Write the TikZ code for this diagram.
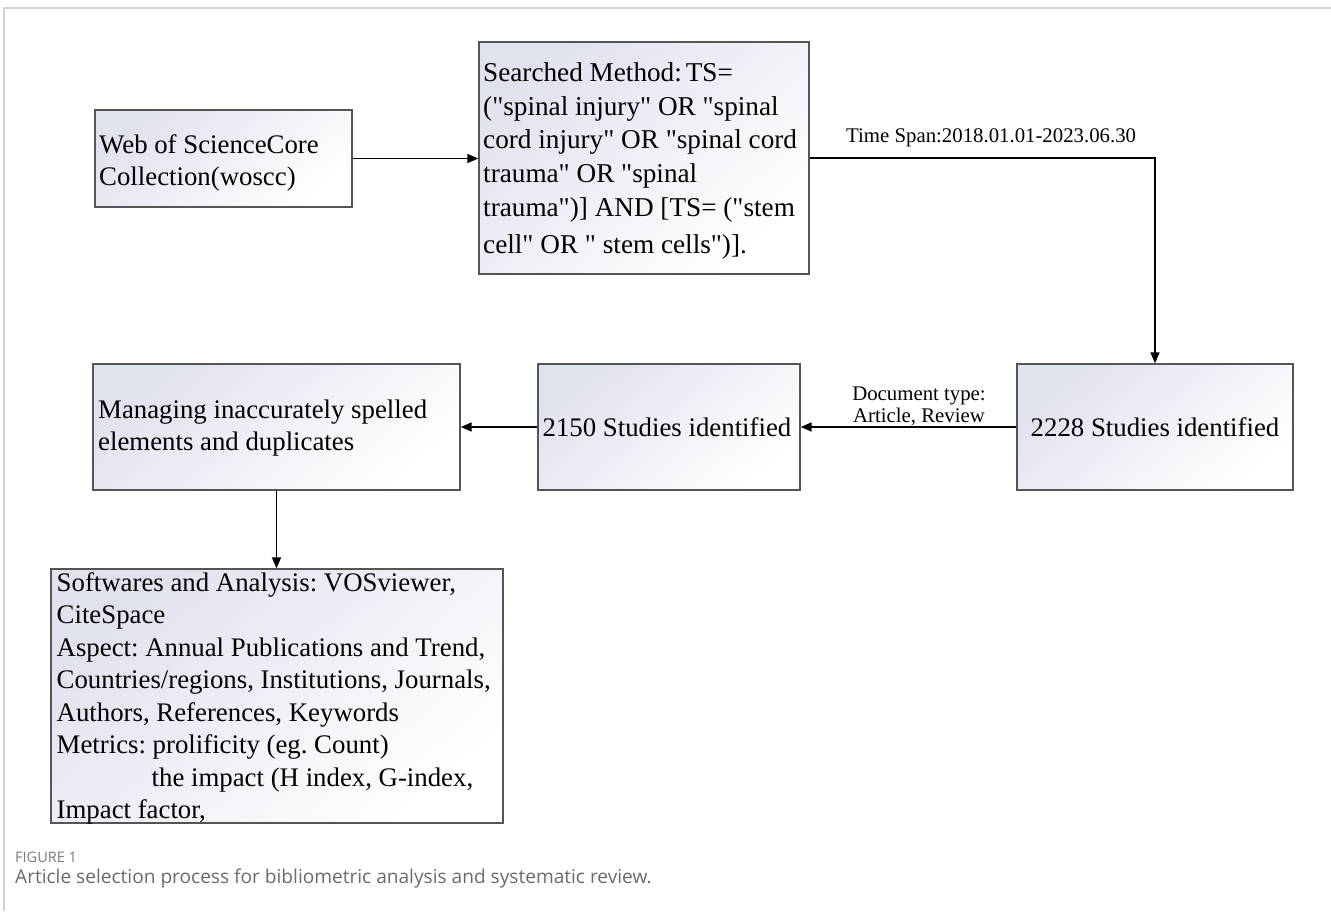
\documentclass[tikz,border=0pt]{standalone}
\usepackage{fontspec}
\setmainfont{Liberation Serif}[Ligatures=TeXOff]
\newfontfamily\capfont{Open Sans}
\usetikzlibrary{arrows.meta}
\definecolor{boxline}{HTML}{555555}
\definecolor{boxshade}{HTML}{E0E2EE}
\definecolor{frameline}{HTML}{D2D2D2}
\definecolor{captext}{HTML}{6A6A6A}
\definecolor{capgray}{HTML}{7A7A7A}
\begin{document}
\frenchspacing
\begin{tikzpicture}[x=1pt,y=-1pt,
  box/.style={draw=boxline, line width=1.4pt, top color=boxshade, bottom color=white, shading angle=40, inner sep=0pt},
  txt/.style={anchor=north west, inner sep=0pt, align=left, font=\fontsize{26.8}{32.5}\selectfont},
  lbl/.style={inner sep=0pt, font=\fontsize{20.8}{22}\selectfont},
  arr/.style={line width=1.5pt, -{Triangle[length=11pt,width=9pt]}}]
\useasboundingbox (0,0) rectangle (1331,911);
% frame
\draw[frameline, line width=2pt] (3.5,911) -- (3.5,7.5) -- (1331,7.5);
% boxes
\node[box, minimum width=257pt, minimum height=97pt] (web) at (223.5,158.5) {};
\node[box, minimum width=330pt, minimum height=232pt] (search) at (644,158) {};
\node[box, minimum width=276pt, minimum height=126pt] (n2228) at (1155,427) {};
\node[box, minimum width=262pt, minimum height=126pt] (n2150) at (669,427) {};
\node[box, minimum width=367pt, minimum height=126pt] (manage) at (276.5,427) {};
\node[box, minimum width=452pt, minimum height=254pt] (soft) at (277,696) {};
% texts
\node[txt] (webt) at (99,131) {\rule{0pt}{22pt}Web of ScienceCore\\Collection(woscc)};
\node[txt, font=\fontsize{27.2}{33.8}\selectfont] (searcht) at (483,59) {\rule{0pt}{22pt}Searched Method:\hspace{4pt}TS=\\
("spinal injury" OR "spinal\\
cord injury" OR "spinal cord\\
trauma" OR "spinal\\
trauma")] AND [TS= ("stem\\[3pt]
cell" OR " stem cells")].};
\node[txt, anchor=base] (t2228) at (1155,436) {2228 Studies identified};
\node[txt, anchor=base] (t2150) at (667,436) {2150 Studies identified};
\node[txt] (managet) at (98,396) {\rule{0pt}{22pt}Managing inaccurately spelled\\elements and duplicates};
\node[txt] (softt) at (56.5,569) {\rule{0pt}{22pt}Softwares and Analysis: VOSviewer,\\
CiteSpace\\
Aspect: Annual Publications and Trend,\\
Countries/regions, Institutions, Journals,\\
Authors, References, Keywords\\
Metrics: prolificity (eg. Count)\\
\hspace*{95pt}the impact (H index, G-index,\\
Impact factor,};
% connectors
\draw[arr] (web.east) -- (web.east -| search.west);
\draw[arr] (search.east) -| (n2228.north);
\node[lbl, anchor=base west] (span) at (846,142) {Time Span:2018.01.01-2023.06.30};
\draw[arr] (n2228.west) -- (n2150.east);
\node[lbl, align=center, font=\fontsize{20.8}{22}\selectfont] (doctype) at (919,406) {Document type:\\Article, Review};
\draw[arr] (n2150.west) -- (manage.east);
\draw[arr] (manage.south) -- (manage.south |- soft.north);
% caption
\node[anchor=base west, inner sep=0pt, text=capgray, font=\capfont\fontsize{14.5}{16}\selectfont] (fig) at (15,862) {FIGURE 1};
\node[anchor=base west, inner sep=0pt, text=captext, font=\capfont\fontsize{19.1}{21}\selectfont] (cap) at (15,883) {Article selection process for bibliometric analysis and systematic review.};
\end{tikzpicture}
\end{document}
